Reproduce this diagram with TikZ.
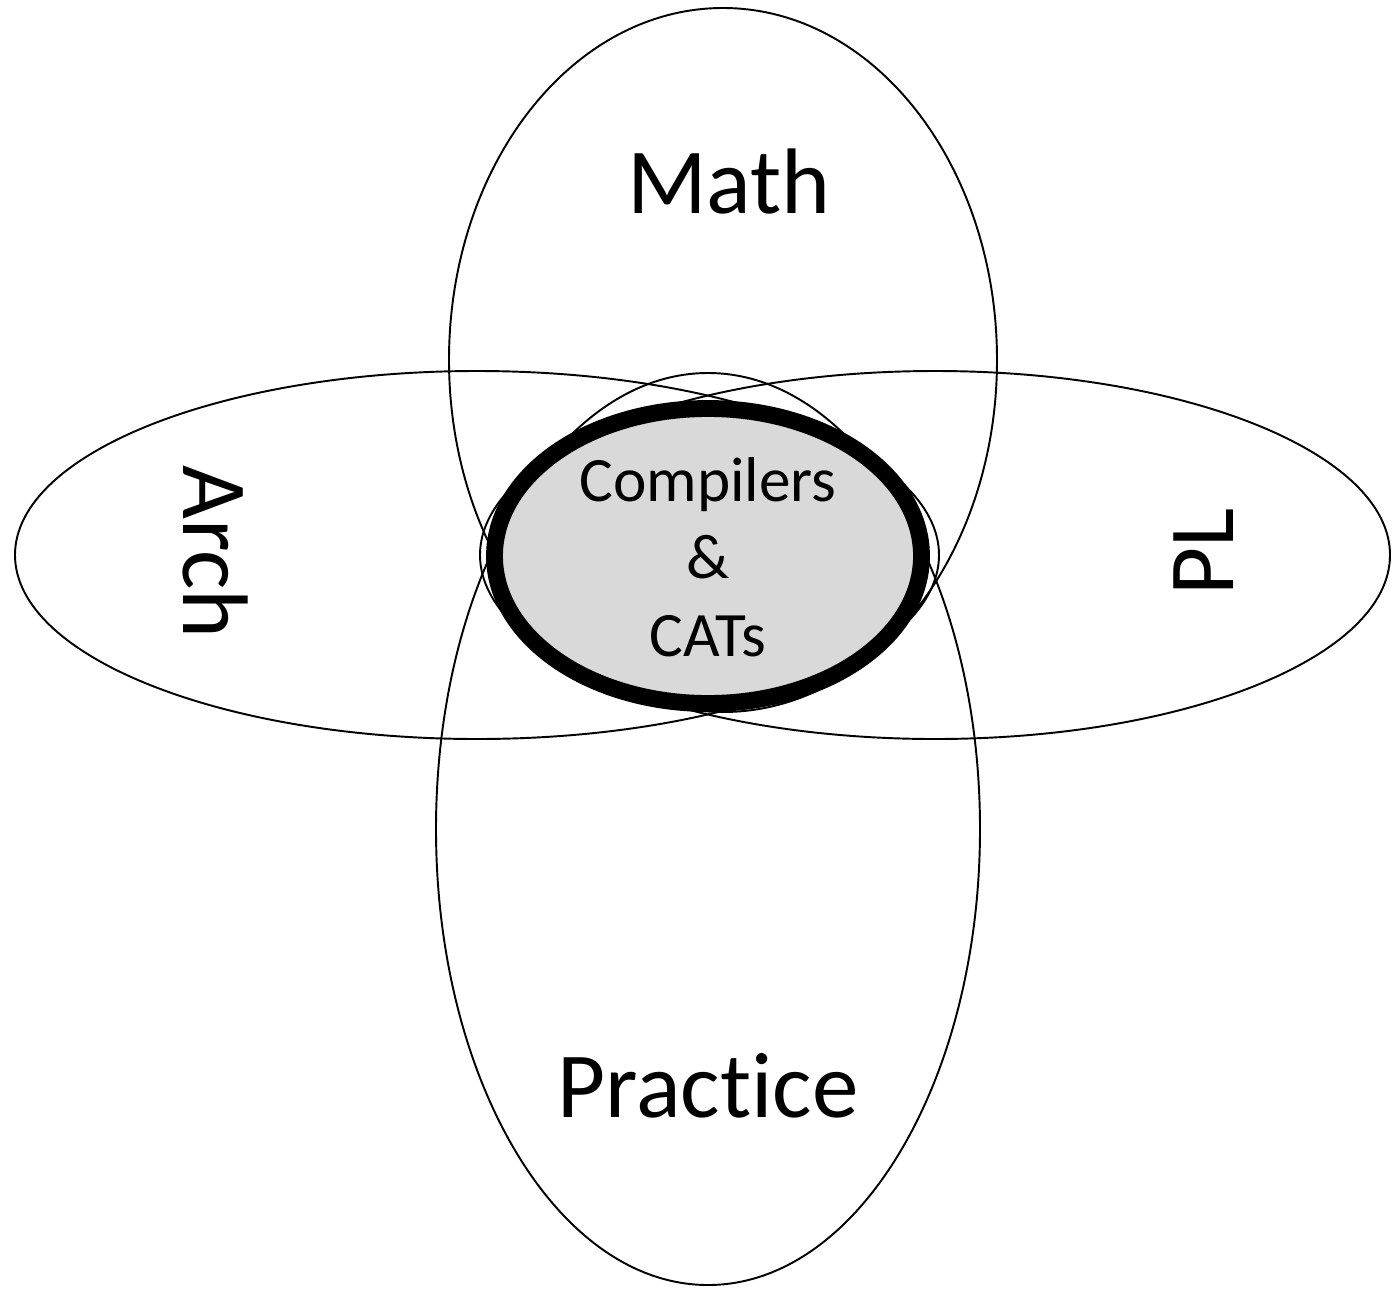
\documentclass[tikz,border=0pt]{standalone}
\usepackage{fontspec}
\setmainfont{Carlito}[Ligatures=CommonOff]
\definecolor{coregray}{HTML}{D9D9D9}
\begin{document}
\begin{tikzpicture}[x=0.02cm, y=-0.02cm, font=\fontsize{53}{63}\selectfont,
    set/.style={line width=1.1pt},
    core/.style={line width=9.6pt, fill=coregray}]

    \useasboundingbox (0,0) rectangle (1392,1288);

    % Množiny (Math, Practice, Arch, PL)
    \draw[set] (723,360) ellipse [x radius=274, y radius=352];
    \draw[set] (708,829) ellipse [x radius=272, y radius=456];
    \draw[set] (477,555) ellipse [x radius=462, y radius=184];
    \draw[set] (935,555) ellipse [x radius=455, y radius=184];

    % Jádro uprostřed
    \draw[core] (708,556) ellipse [x radius=213.5, y radius=147.5];

    % Popisky
    \node[anchor=base] (math) at (729,213) {Math};
    \node[anchor=base] (practice) at (708,1117) {Practice};
    \node[anchor=base, rotate=-90] (arch) at (183,552) {Arch};
    \node[anchor=base, rotate=90] (pl) at (1233,552) {PL};
    \node[align=center, font=\fontsize{36}{44}\selectfont] (compilers) at (708,557) {Compilers\\\&\\CATs};

\end{tikzpicture}
\end{document}
